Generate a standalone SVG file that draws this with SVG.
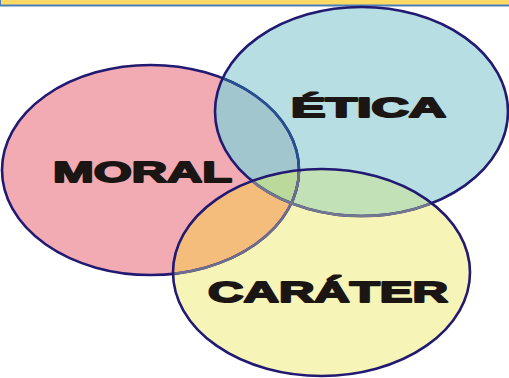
<svg xmlns="http://www.w3.org/2000/svg" width="509" height="378" viewBox="0 0 509 378">
<style>
.lbl{font-family:"Liberation Sans",Arial,sans-serif;font-weight:bold;fill:#1b1514;stroke:#1b1514;stroke-width:1.9;stroke-linejoin:round}
.edge{fill:none;stroke-width:2.6}
</style>
<defs>
<ellipse id="eM" cx="150.5" cy="170" rx="148.5" ry="105"/>
<ellipse id="eE" cx="361.5" cy="111.5" rx="146.5" ry="104.5"/>
<ellipse id="eC" cx="321.5" cy="272.5" rx="148.5" ry="103.5"/>
<clipPath id="cE"><use href="#eE"/></clipPath>
<clipPath id="cC"><use href="#eC"/></clipPath>
</defs>
<rect x="0" y="0" width="509" height="378" fill="#ffffff"/>
<rect x="0" y="0" width="509" height="5" fill="#ffd966"/>
<line x1="0" y1="5.5" x2="509" y2="5.5" stroke="#4a7ebb" stroke-width="2"/>
<line x1="0.5" y1="0" x2="0.5" y2="6" stroke="#4a7ebb" stroke-width="1"/>
<g id="moral">
<use href="#eM" fill="#f2abb2"/>
</g>
<g id="etica">
<use href="#eE" fill="#b7dee2"/>
</g>
<g id="carater">
<use href="#eC" fill="#f6f4b6"/>
</g>
<g id="overlaps">
<use href="#eM" fill="#a2c6ce" clip-path="url(#cE)"/>
<use href="#eM" fill="#f4bd7c" clip-path="url(#cC)"/>
<use href="#eE" fill="#c2e1b6" clip-path="url(#cC)"/>
<g clip-path="url(#cC)"><use href="#eM" fill="#bad99a" clip-path="url(#cE)"/></g>
</g>
<g id="connectors">
<use href="#eM" class="edge" stroke="#221a72"/>
<use href="#eM" class="edge" stroke="#26508f" clip-path="url(#cE)"/>
<use href="#eE" class="edge" stroke="#221a72"/>
<use href="#eM" class="edge" stroke="#6f6d8c" clip-path="url(#cC)"/>
<use href="#eE" class="edge" stroke="#737890" clip-path="url(#cC)"/>
<use href="#eC" class="edge" stroke="#221a72"/>
</g>
<text class="lbl" x="53" y="182" font-size="30" textLength="179" lengthAdjust="spacingAndGlyphs">MORAL</text>
<text class="lbl" x="291" y="117" font-size="27" textLength="155" lengthAdjust="spacingAndGlyphs">ÉTICA</text>
<text class="lbl" x="208" y="302" font-size="30" textLength="240" lengthAdjust="spacingAndGlyphs">CARÁTER</text>
</svg>
